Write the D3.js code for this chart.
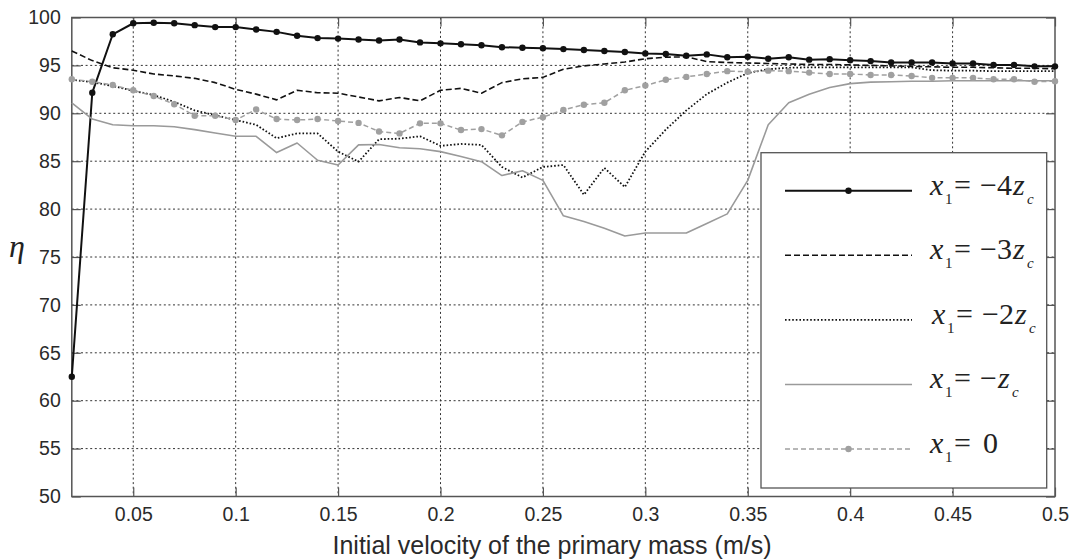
<!DOCTYPE html>
<html>
<head>
<meta charset="utf-8">
<script src="https://cdn.jsdelivr.net/npm/d3@7/dist/d3.min.js"></script>
<style>
  html, body { margin: 0; padding: 0; background: #fff; }
  svg { display: block; }
</style>
</head>
<body>
<svg id="chart" width="1073" height="559"></svg>
<script>
// ---------- data ----------
const velocity = [0.02,0.03,0.04,0.05,0.06,0.07,0.08,0.09,0.10,0.11,0.12,0.13,0.14,0.15,0.16,0.17,0.18,0.19,0.20,
  0.21,0.22,0.23,0.24,0.25,0.26,0.27,0.28,0.29,0.30,0.31,0.32,0.33,0.34,0.35,0.36,0.37,0.38,0.39,0.40,
  0.41,0.42,0.43,0.44,0.45,0.46,0.47,0.48,0.49,0.50];

const eta_m4zc = [62.5,92.15,98.25,99.4,99.45,99.4,99.2,99.0,99.0,98.75,98.5,98.1,97.85,97.8,97.7,97.6,97.7,97.4,97.3,
  97.2,97.1,96.9,96.85,96.8,96.7,96.6,96.5,96.4,96.25,96.2,96.0,96.15,95.85,95.9,95.7,95.85,95.6,95.65,95.55,
  95.45,95.3,95.3,95.3,95.2,95.2,95.05,95.05,94.9,94.9];

const eta_m3zc = [96.5,95.5,94.75,94.5,94.1,93.9,93.65,93.2,92.5,92.0,91.4,92.4,92.15,92.1,91.7,91.3,91.65,91.3,92.4,
  92.6,92.1,93.2,93.6,93.75,94.6,94.95,95.15,95.35,95.7,95.85,95.9,95.4,95.3,95.25,95.2,95.15,95.1,95.1,95.05,
  95.0,94.95,94.9,94.85,94.8,94.8,94.75,94.7,94.7,94.65];

const eta_m2zc = [93.5,93.25,92.85,92.35,91.9,91.2,90.3,89.8,89.3,88.8,87.4,87.9,87.9,86.0,84.95,87.3,87.35,87.6,86.6,
  86.8,86.7,84.4,83.3,84.4,84.6,81.5,84.3,82.3,86.0,88.3,90.3,92.0,93.2,94.2,94.6,94.75,94.8,94.8,94.8,
  94.8,94.8,94.8,94.5,94.45,94.45,94.4,94.4,94.4,94.4];

const eta_m1zc = [91.1,89.4,88.8,88.7,88.7,88.6,88.3,87.95,87.6,87.6,85.9,86.9,85.1,84.6,86.7,86.75,86.4,86.3,86.0,
  85.5,84.95,83.5,84.0,83.0,79.3,78.7,78.0,77.2,77.5,77.5,77.5,78.5,79.5,83.0,88.8,91.1,92.0,92.7,93.1,
  93.25,93.3,93.35,93.35,93.4,93.4,93.4,93.4,93.4,93.4];

const eta_0 = [93.55,93.3,92.95,92.4,91.8,90.95,89.75,89.75,89.3,90.4,89.4,89.3,89.4,89.2,89.0,88.1,87.9,88.95,88.95,
  88.25,88.35,87.7,89.1,89.6,90.35,90.9,91.1,92.4,92.9,93.5,93.8,94.1,94.4,94.35,94.45,94.4,94.25,94.1,94.1,
  94.0,94.0,93.9,93.7,93.7,93.7,93.55,93.55,93.3,93.35];

const xTicks = [0.05,0.1,0.15,0.2,0.25,0.3,0.35,0.4,0.45,0.5];
const xTickLabels = ["0.05","0.1","0.15","0.2","0.25","0.3","0.35","0.4","0.45","0.5"];
const yTicks = [50,55,60,65,70,75,80,85,90,95,100];
const yTickLabels = ["50","55","60","65","70","75","80","85","90","95","100"];

const xLabel = "Initial velocity of the primary mass (m/s)";
const yLabel = "\u03B7";

// legend label pieces: coefficient text before z ("0" means x1 = 0 case)
const legendCoef = ["\u22124", "\u22123", "\u22122", "\u2212", "0"];

// ---------- styles ----------
const seriesList = [
  { values: eta_m4zc, color: "#111", width: 2.0, dash: null, marker: true, mcolor: "#111" },
  { values: eta_m3zc, color: "#111", width: 1.6, dash: "6,3", marker: false },
  { values: eta_m2zc, color: "#111", width: 1.8, dash: "1.6,2", marker: false },
  { values: eta_m1zc, color: "#9a9a9a", width: 1.6, dash: null, marker: false },
  { values: eta_0, color: "#a0a0a0", width: 1.5, dash: "5,3", marker: true, mcolor: "#a0a0a0" }
];

// ---------- layout ----------
const svg = d3.select("#chart");
const L = 71.8, R = 1055, T = 17.5, B = 496.5;

const x = d3.scaleLinear().domain([0.02, 0.5]).range([L, R]);
const y = d3.scaleLinear().domain([50, 100]).range([B, T]);

// grid
const grid = svg.append("g");
grid.selectAll("line.vx").data(xTicks.filter(d => d < 0.5)).enter().append("line")
  .attr("x1", d => x(d)).attr("x2", d => x(d)).attr("y1", T).attr("y2", B)
  .attr("stroke", "#333").attr("stroke-width", 1).attr("stroke-dasharray", "2,2.6");
grid.selectAll("line.hy").data(yTicks.filter(d => d > 50 && d < 100)).enter().append("line")
  .attr("x1", L).attr("x2", R).attr("y1", d => y(d)).attr("y2", d => y(d))
  .attr("stroke", "#333").attr("stroke-width", 1).attr("stroke-dasharray", "2,2.6");

// axes (ticks inward on all four sides)
const tickLen = 9;
const axB = svg.append("g").attr("transform", `translate(0,${B})`)
  .call(d3.axisBottom(x).tickValues(xTicks).tickSize(-tickLen).tickSizeOuter(0).tickFormat((d, i) => xTickLabels[i]).tickPadding(18));
const axT = svg.append("g").attr("transform", `translate(0,${T})`)
  .call(d3.axisTop(x).tickValues(xTicks).tickSize(-tickLen).tickSizeOuter(0).tickFormat(""));
const axL = svg.append("g").attr("transform", `translate(${L},0)`)
  .call(d3.axisLeft(y).tickValues(yTicks).tickSize(-tickLen).tickSizeOuter(0).tickFormat((d, i) => yTickLabels[i]).tickPadding(11));
const axR = svg.append("g").attr("transform", `translate(${R},0)`)
  .call(d3.axisRight(y).tickValues(yTicks).tickSize(-tickLen).tickSizeOuter(0).tickFormat(""));

[axB, axT, axL, axR].forEach(a => {
  a.select(".domain").remove();
  a.selectAll(".tick line").attr("stroke", "#555").attr("stroke-width", 1.2);
  a.selectAll("text").attr("fill", "#2a2a2a").style("font-family", "'Liberation Sans', Arial, sans-serif").style("font-size", "19.5px");
});
axB.selectAll("text").attr("dy", "0.35em");

// frame
svg.append("rect").attr("x", L).attr("y", T).attr("width", R - L).attr("height", B - T)
  .attr("fill", "none").attr("stroke", "#555").attr("stroke-width", 1.5);

// series
const line = d3.line().x((d, i) => x(velocity[i])).y(d => y(d));
seriesList.forEach(s => {
  const p = svg.append("path").datum(s.values).attr("d", line)
    .attr("fill", "none").attr("stroke", s.color).attr("stroke-width", s.width)
    .attr("stroke-linejoin", "round");
  if (s.dash) p.attr("stroke-dasharray", s.dash);
});
seriesList.forEach(s => {
  if (!s.marker) return;
  svg.append("g").selectAll("circle").data(s.values).enter().append("circle")
    .attr("cx", (d, i) => x(velocity[i])).attr("cy", d => y(d)).attr("r", 3.2)
    .attr("fill", s.mcolor);
});

// axis labels
svg.append("text").attr("x", 552).attr("y", 554).attr("text-anchor", "middle")
  .attr("fill", "#2a2a2a").style("font-family", "'Liberation Sans', Arial, sans-serif").style("font-size", "25px")
  .text(xLabel);
svg.append("text").attr("x", 9).attr("y", 257)
  .attr("fill", "#222").style("font-family", "'Liberation Serif', 'Times New Roman', serif")
  .style("font-style", "italic").style("font-size", "32px").text(yLabel);

// legend
const lg = svg.append("g");
const LX0 = 761, LY0 = 152.7, LX1 = 1046.7, LY1 = 488;
lg.append("rect").attr("x", LX0).attr("y", LY0).attr("width", LX1 - LX0).attr("height", LY1 - LY0)
  .attr("fill", "#fff").attr("stroke", "#555").attr("stroke-width", 1.3);
const rowY = d3.scaleLinear().domain([0, 4]).range([190.7, 449]);
const serif = "'Liberation Serif', 'Times New Roman', serif";
seriesList.forEach((s, i) => {
  const yy = rowY(i);
  const ln = lg.append("line").attr("x1", 785).attr("x2", 912).attr("y1", yy).attr("y2", yy)
    .attr("stroke", s.color).attr("stroke-width", s.width);
  if (s.dash) ln.attr("stroke-dasharray", s.dash);
  if (s.marker) lg.append("circle").attr("cx", 848.5).attr("cy", yy).attr("r", 3.2).attr("fill", s.mcolor);

  const base = yy + 4;
  const xs0 = i === 2 ? 932 : 930;
  const fs = "30px", sub = "15px";
  const mk = (xx, yb, txt, italic, size) => lg.append("text").attr("x", xx).attr("y", yb)
    .attr("fill", "#222").style("font-family", serif).style("font-size", size || fs)
    .style("font-style", italic ? "italic" : "normal").text(txt);
  mk(xs0, base, "x", true);
  mk(xs0 + 15, base + 9, "1", false, sub);
  mk(xs0 + 24, base, "=", false);
  const coef = legendCoef[i];
  if (coef === "0") {
    mk(xs0 + 53, base, "0", false);
  } else {
    mk(xs0 + 50, base, coef, false);
    const zx = xs0 + 50 + (coef.length > 1 ? 33 : 18);
    mk(zx, base, "z", true);
    mk(zx + 14, base + 9, "c", true, sub);
  }
});
</script>
</body>
</html>
